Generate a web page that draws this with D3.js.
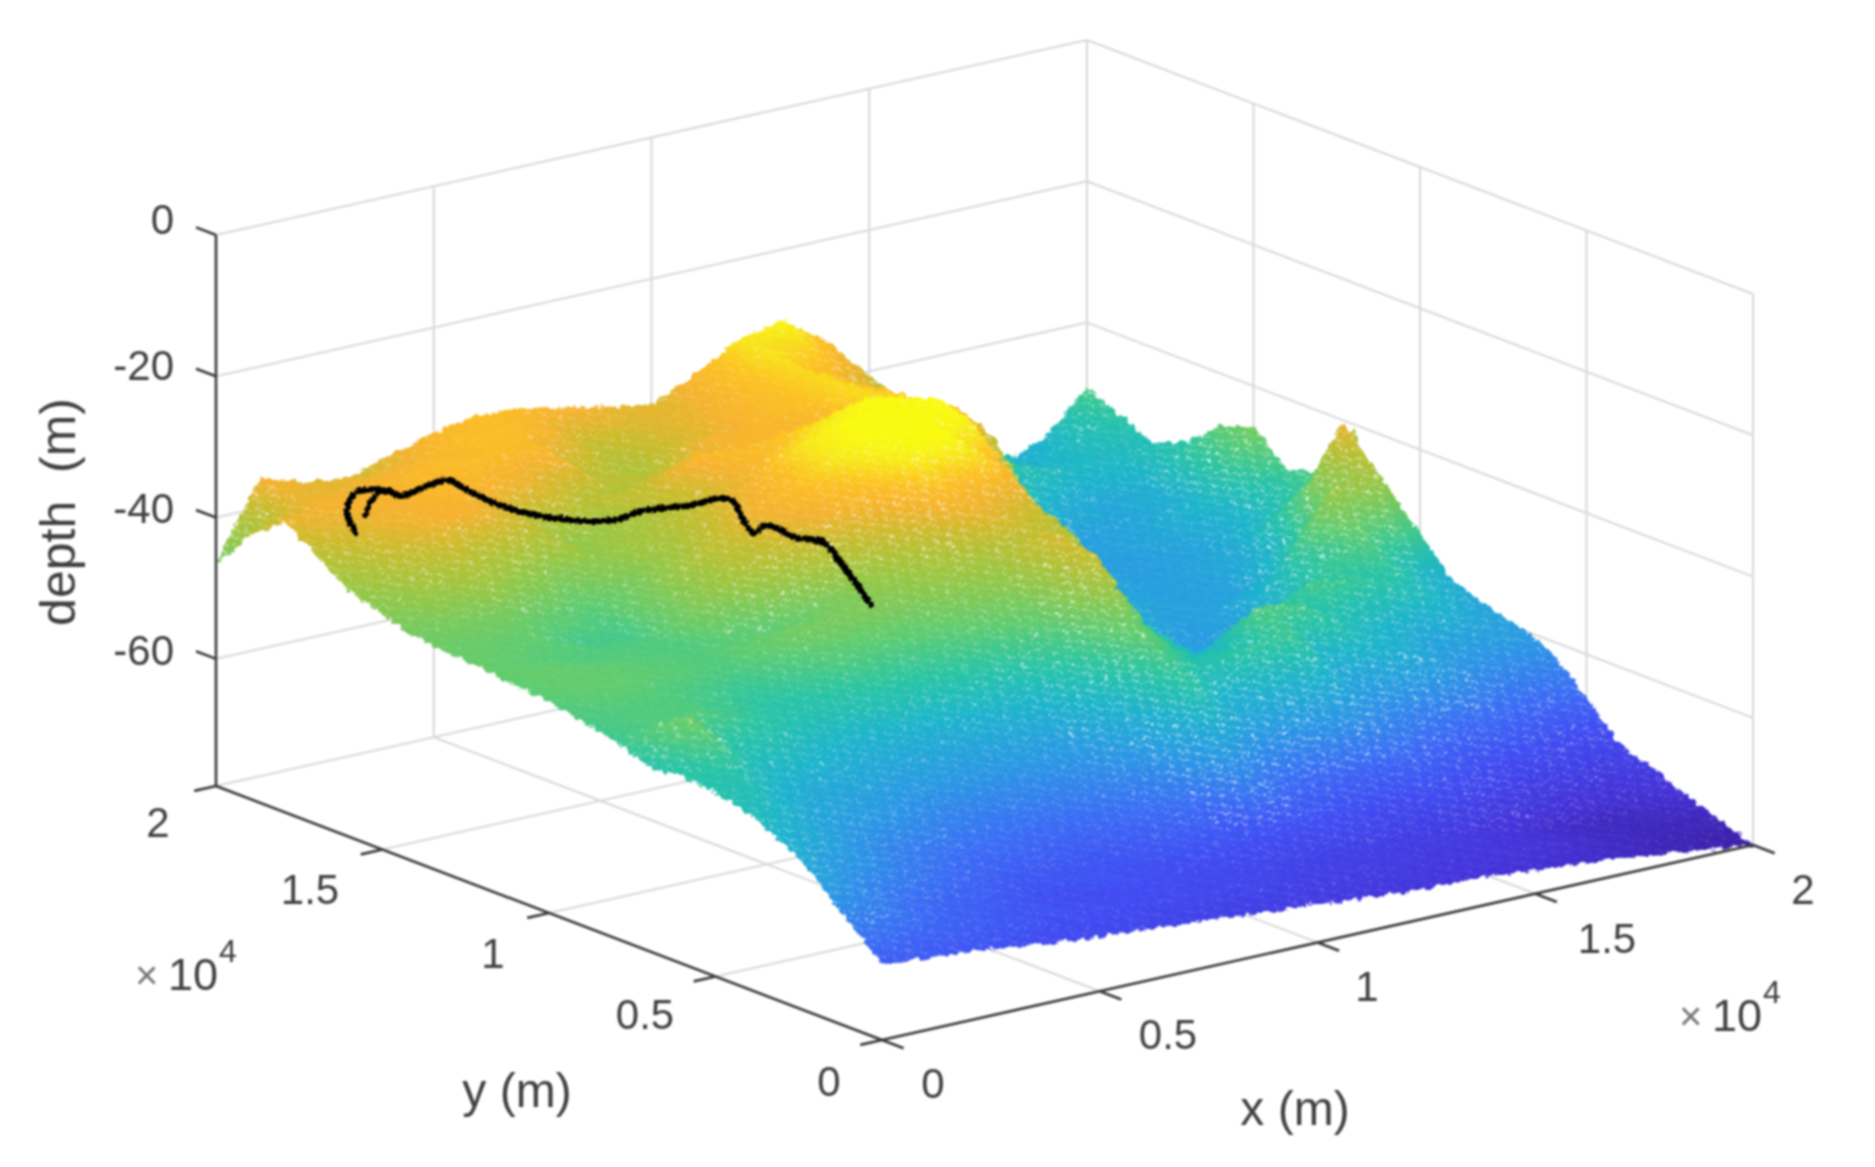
<!DOCTYPE html>
<html>
<head>
<meta charset="utf-8">
<title>depth surface</title>
<script src="https://cdn.jsdelivr.net/npm/d3@7"></script>
<style>
html, body { margin: 0; padding: 0; background: #fff; }
svg { display: block; filter: blur(0.8px); }
text { font-family: "Liberation Sans", Arial, sans-serif; fill: #404040; }
</style>
</head>
<body>
<script>
var width = 1875,
    height = 1167;

// grid nodes in metres, depth rows run from y = 0 to y = 20000
var gridX = d3.range(0, 20001, 1000);
var gridY = d3.range(0, 20001, 1000);
var depth = [
  [-67.2,-67.7,-68.2,-68.9,-69.7,-70.2,-70.6,-71.1,-71.6,-72.1,-72.6,-73.1,-73.6,-73.8,-74.1,-74.6,-75.1,-75.7,-76.4,-77.2,-78],
  [-63.3,-64.8,-66.2,-67.2,-68.2,-68.7,-69.2,-69.7,-70.2,-70.2,-71.1,-71.6,-72.1,-72.6,-73.1,-73.6,-74.1,-75.1,-76,-76.5,-76.4],
  [-58.4,-61.8,-64.8,-66.3,-67.2,-68.7,-69.2,-68.7,-69.2,-69.7,-70.2,-70.7,-71.2,-71.6,-72.1,-73.1,-74.1,-75.1,-76,-75.6,-74.5],
  [-55.5,-59.4,-61.3,-63.8,-65.8,-67.3,-67.8,-68.2,-68.2,-67.8,-67.8,-68.2,-68.2,-69.2,-69.7,-69.7,-71.2,-72.2,-73.1,-73.5,-72.6],
  [-53,-56,-59.4,-62,-63.8,-65,-65.5,-66.3,-66.3,-65.3,-64.3,-60,-64.3,-65.8,-66.3,-65.8,-67.3,-69.2,-69.2,-70.5,-70.9],
  [-52,-53.5,-57,-59,-60.5,-62.4,-63.3,-63.3,-63.3,-62.4,-60.4,-51.5,-57.5,-58.4,-58.4,-60.9,-62.9,-64.3,-65.3,-66.8,-66.2],
  [-51.5,-51.5,-55,-57,-58,-59.5,-60,-60.5,-60,-60,-56,-49,-53,-51,-50,-57,-55.5,-57.5,-61,-62,-61.7],
  [-52,-46.2,-52.5,-53.5,-55.5,-56.5,-57,-57,-56.5,-56,-52,-45.7,-53.5,-55.5,-48.6,-49.6,-53.5,-55.5,-57.5,-58,-59.9],
  [-50,-48.6,-48.6,-50.6,-52.5,-53,-52.5,-52.5,-51.5,-50.6,-48.6,-38.8,-49.6,-57.4,-58.4,-52.5,-49.6,-50.6,-52.5,-56,-58.4],
  [-49.1,-48.6,-48.6,-49.6,-51,-50,-48.6,-48.6,-48.1,-46.6,-44.7,-37.8,-45.7,-55.5,-59.4,-59.4,-54.5,-50.6,-48.6,-54,-56.9],
  [-48.1,-47.1,-47.6,-48.1,-48.6,-47.1,-45.7,-45.2,-44.7,-43.2,-41.7,-39.3,-40.8,-52.5,-59.4,-59.9,-58.4,-52.5,-42.7,-41.7,-56.5],
  [-47.6,-47.1,-47.6,-48.1,-48.6,-48.1,-47.6,-45.7,-42.7,-39.8,-35,-36.8,-38.8,-50.6,-56.4,-59.4,-58.9,-58.4,-51.5,-36.8,-50.6],
  [-47.1,-47.6,-48.6,-48.6,-48.6,-44.7,-40.8,-37.8,-35.9,-33.9,-30,-30,-34.9,-45.7,-54.5,-58.4,-59.4,-58.9,-56.4,-46.6,-40.8],
  [-46.6,-47.1,-47.6,-49.6,-49.6,-44.7,-39.8,-35.9,-33.9,-30.5,-29,-28.5,-30.5,-40.8,-54.5,-58.4,-59.4,-58.9,-57.4,-53.5,-48.6],
  [-46.2,-45.7,-45.7,-47.1,-48.6,-45.7,-41.7,-37.8,-34.9,-31,-29,-28,-29,-35.9,-44.7,-56.4,-59.4,-59.4,-58.4,-55.5,-50],
  [-44.7,-42.7,-40.8,-42.7,-44.7,-43.7,-41.7,-39.8,-36.8,-34,-31.5,-29.5,-30.5,-32.9,-38.8,-57.4,-59.4,-58.9,-57.4,-54.5,-45.7],
  [-43.2,-38.8,-35.9,-35.9,-38.8,-43.7,-42.7,-38.8,-34.9,-35.4,-34.9,-35.5,-32,-33.9,-36.8,-48.6,-58.4,-59.4,-58.4,-56.4,-47.5],
  [-39.8,-36.8,-35.9,-34.9,-35.4,-36.8,-39.8,-40.8,-39.8,-35.9,-35.4,-33.9,-32,-34.4,-38.8,-45.7,-51.5,-56.4,-57.9,-56.4,-51.5],
  [-36.8,-35.9,-35.9,-34.9,-33.9,-34.4,-34.9,-39.8,-41.7,-38.3,-35.9,-33.9,-32,-35.9,-40.8,-46.6,-50.6,-52.5,-54.5,-54.5,-53.5],
  [-40.8,-36.8,-36.8,-36.3,-35.4,-33.9,-33.9,-35.9,-39.8,-37.8,-36.8,-33.9,-31.5,-32.9,-36.8,-42.7,-49.6,-53.5,-56,-54,-51.5],
  [-46.6,-35.9,-37.8,-38.8,-36.8,-34.9,-33.9,-34.4,-35.5,-36.8,-37.8,-34.9,-31.4,-30,-34.4,-42.7,-48.6,-51.5,-57.4,-55.1,-49.2]
];

// vehicle track, two passes at the start
var trackX = [584,1212,1982,2345,2655,2624,3112,3624,3940,3821,3720,4081,4810,5556,6493,7221,7205,6799,6342,6819,6775,7022,6548,5304];
var trackY = [16559,17651,18477,18592,18276,17905,18003,18162,18155,17459,16276,14976,14338,14473,14227,14219,13837,13126,12138,12401,11412,10986,9854,7266];
var track2X = [1359,2067,2434,2655];
var track2Y = [17302,18018,18287,18276];
var track3X = [6775,6950,6450,5304];
var track3Y = [11412,10800,9700,7266];
var trackDepth = -36.8;

var xTicks = [0, 5000, 10000, 15000, 20000];
var yTicks = [0, 5000, 10000, 15000, 20000];
var zTicks = [-60, -40, -20, 0];
var zLabels = ["-60", "-40", "-20", "0"];
var zLabelY = [654, 512, 369, 223];
var zMin = -78;

var depthStops = [-78, -74.1, -69.2, -65.3, -60.4, -55.5, -51.5, -47.6, -42.7, -38.8, -35.9, -33.5, -31.5, -29.5];
var colorStops = ["#3a1fa6", "#4432d8", "#3f4cf2", "#3a6cf5", "#2a98e4", "#1db4cc", "#28c4a4", "#5ecc70", "#9cc640", "#c8bc2c", "#f6b22e", "#fcc022", "#f8e418", "#f8fa10"];
var color = d3.scaleLinear().domain(depthStops).range(colorStops).clamp(true);

// oblique projection of the box, each scale gives a pixel offset
var origin = { x: 882, y: 1040 };
var xPx = d3.scaleLinear().domain([0, 20000]).range([0, 871]);
var xPy = d3.scaleLinear().domain([0, 20000]).range([0, -195]);
var yPx = d3.scaleLinear().domain([0, 20000]).range([0, -666]);
var yPy = d3.scaleLinear().domain([0, 20000]).range([0, -254]);
var zPy = d3.scaleLinear().domain([zMin, 0]).range([0, -551]);

function project(x, y, z) {
    return [origin.x + xPx(x) + yPx(y), origin.y + xPy(x) + yPy(y) + zPy(z)];
}

var svg = d3.select("body").append("svg")
    .attr("width", width)
    .attr("height", height);

var defs = svg.append("defs");

// dots of the mesh, the tile follows the two grid directions
var dotSizes = [0.06, 0.26, 0.12, 0.3, 0.1, 0.2, 0.05];
var meshTile = defs.append("pattern")
    .attr("id", "meshDots")
    .attr("patternUnits", "userSpaceOnUse")
    .attr("width", 7)
    .attr("height", 7)
    .attr("patternTransform", "matrix(6.2,-1.39,-4.76,-1.81,0,0)");
d3.range(7).forEach(function(a) {
    d3.range(7).forEach(function(b) {
        meshTile.append("circle")
            .attr("cx", a + 0.5)
            .attr("cy", b + 0.5)
            .attr("r", dotSizes[(a * 3 + b * 5) % 7])
            .attr("fill", "#fff");
    });
});

function roughFilter(id, freq, scale) {
    var f = defs.append("filter")
        .attr("id", id)
        .attr("filterUnits", "userSpaceOnUse")
        .attr("x", 0).attr("y", 0)
        .attr("width", width).attr("height", height);
    f.append("feTurbulence")
        .attr("type", "fractalNoise")
        .attr("baseFrequency", freq)
        .attr("numOctaves", 3)
        .attr("seed", 4)
        .attr("result", "n");
    f.append("feDisplacementMap")
        .attr("in", "SourceGraphic")
        .attr("in2", "n")
        .attr("scale", scale)
        .attr("xChannelSelector", "R")
        .attr("yChannelSelector", "G");
}
roughFilter("rough", 0.14, 9);
roughFilter("jitter", 0.3, 5);

function seg(g, a, b) {
    g.append("line")
        .attr("x1", a[0]).attr("y1", a[1])
        .attr("x2", b[0]).attr("y2", b[1]);
}

// back walls and floor
var grid = svg.append("g")
    .attr("stroke", "#d8d8d8")
    .attr("stroke-width", 2);

zTicks.forEach(function(z) {
    seg(grid, project(0, 20000, z), project(20000, 20000, z));
    seg(grid, project(20000, 20000, z), project(20000, 0, z));
});
xTicks.forEach(function(x) {
    seg(grid, project(x, 20000, zMin), project(x, 20000, 0));
    seg(grid, project(x, 0, zMin), project(x, 20000, zMin));
});
yTicks.forEach(function(y) {
    seg(grid, project(20000, y, zMin), project(20000, y, 0));
    seg(grid, project(0, y, zMin), project(20000, y, zMin));
});

// surface, far cells first so near hills cover them
var surface = svg.append("g").attr("filter", "url(#rough)");
var gradId = 0;
var dotOpacity = d3.scaleLinear().domain([1, 9]).range([0.1, 0.8]).clamp(true);

function node(i, j) {
    var p = project(gridX[i], gridY[j], depth[j][i]);
    return { x: p[0], y: p[1], v: depth[j][i] };
}

function triangle(a, b, c) {
    var det = (b.x - a.x) * (c.y - a.y) - (c.x - a.x) * (b.y - a.y);
    var gx = ((b.v - a.v) * (c.y - a.y) - (c.v - a.v) * (b.y - a.y)) / det;
    var gy = ((b.x - a.x) * (c.v - a.v) - (c.x - a.x) * (b.v - a.v)) / det;
    var g2 = gx * gx + gy * gy;
    var lo = d3.least([a, b, c], function(d) { return d.v; });
    var hi = d3.greatest([a, b, c], function(d) { return d.v; });
    var paint = color(lo.v);
    if (g2 > 1e-9 && hi.v > lo.v) {
        var id = "g" + (gradId++);
        var k = (hi.v - lo.v) / g2;
        var lg = defs.append("linearGradient")
            .attr("id", id)
            .attr("gradientUnits", "userSpaceOnUse")
            .attr("x1", lo.x).attr("y1", lo.y)
            .attr("x2", lo.x + gx * k).attr("y2", lo.y + gy * k);
        d3.range(5).forEach(function(s) {
            lg.append("stop")
                .attr("offset", s / 4)
                .attr("stop-color", color(lo.v + (hi.v - lo.v) * s / 4));
        });
        paint = "url(#" + id + ")";
    }
    surface.append("polygon")
        .attr("points", [a, b, c].map(function(d) { return d.x + "," + d.y; }).join(" "))
        .attr("fill", paint)
        .attr("stroke", paint)
        .attr("stroke-width", 0.8);
}

for (var j = gridY.length - 2; j >= 0; j--) {
    for (var i = gridX.length - 2; i >= 0; i--) {
        var n00 = node(i, j), n10 = node(i + 1, j), n01 = node(i, j + 1), n11 = node(i + 1, j + 1);
        triangle(n11, n01, n10);
        triangle(n01, n00, n10);
        var range = d3.max([n00, n10, n01, n11], function(d) { return d.v; }) -
                    d3.min([n00, n10, n01, n11], function(d) { return d.v; });
        surface.append("polygon")
            .attr("points", [n00, n10, n11, n01].map(function(d) { return d.x + "," + d.y; }).join(" "))
            .attr("fill", "url(#meshDots)")
            .attr("fill-opacity", dotOpacity(range));
    }
}

// track
var trackLine = d3.line()
    .x(function(d) { return project(d[0], d[1], trackDepth)[0]; })
    .y(function(d) { return project(d[0], d[1], trackDepth)[1]; })
    .curve(d3.curveCatmullRom.alpha(0.5));

var trackGroup = svg.append("g").attr("filter", "url(#jitter)");

[[trackX, trackY, 6], [track2X, track2Y, 5], [track3X, track3Y, 5]].forEach(function(t) {
    trackGroup.append("path")
        .attr("d", trackLine(d3.zip(t[0], t[1])))
        .attr("fill", "none")
        .attr("stroke", "#000")
        .attr("stroke-width", t[2])
        .attr("stroke-linecap", "round")
        .attr("stroke-linejoin", "round");
});

// axes
var axes = svg.append("g")
    .attr("stroke", "#3a3a3a")
    .attr("stroke-width", 2.6);

seg(axes, project(0, 0, zMin), project(20000, 0, zMin));
seg(axes, project(0, 0, zMin), project(0, 20000, zMin));
seg(axes, project(0, 20000, zMin), project(0, 20000, 0));

xTicks.forEach(function(x) {
    seg(axes, project(x, 0, zMin), project(x, -650, zMin));
});
yTicks.forEach(function(y) {
    seg(axes, project(0, y, zMin), project(-500, y, zMin));
});
zTicks.forEach(function(z) {
    seg(axes, project(0, 20000, z), project(0, 20600, z));
});

function label(str, x, y, size, anchor) {
    return svg.append("text")
        .attr("x", x)
        .attr("y", y)
        .attr("font-size", size)
        .attr("text-anchor", anchor || "middle")
        .attr("dominant-baseline", "middle")
        .text(str);
}

var tickSize = 42;

zLabels.forEach(function(s, i) {
    label(s, 174, zLabelY[i], tickSize, "end");
});

var xTickText = ["0", "0.5", "1", "1.5", "2"];
var xTickPos = [[933, 1087], [1168, 1038], [1367, 990], [1607, 942], [1803, 893]];
xTickText.forEach(function(s, i) { label(s, xTickPos[i][0], xTickPos[i][1], tickSize); });

var yTickText = ["0", "0.5", "1", "1.5", "2"];
var yTickPos = [[829, 1085], [645, 1018], [493, 957], [310, 893], [158, 826]];
yTickText.forEach(function(s, i) { label(s, yTickPos[i][0], yTickPos[i][1], tickSize); });

function multiplier(x, y) {
    label("\u00d7", x, y, 40, "start").style("fill", "#777");
    label("10", x + 33, y, 45, "start");
    label("4", x + 84, y - 24, 32, "start");
}
multiplier(135, 978);
multiplier(1679, 1019);

label("x (m)", 1295, 1112, 48);
label("y (m)", 517, 1094, 48);
label("depth  (m)", 0, 0, 50)
    .style("white-space", "pre")
    .attr("transform", "translate(62,512) rotate(-90)");
</script>
</body>
</html>
